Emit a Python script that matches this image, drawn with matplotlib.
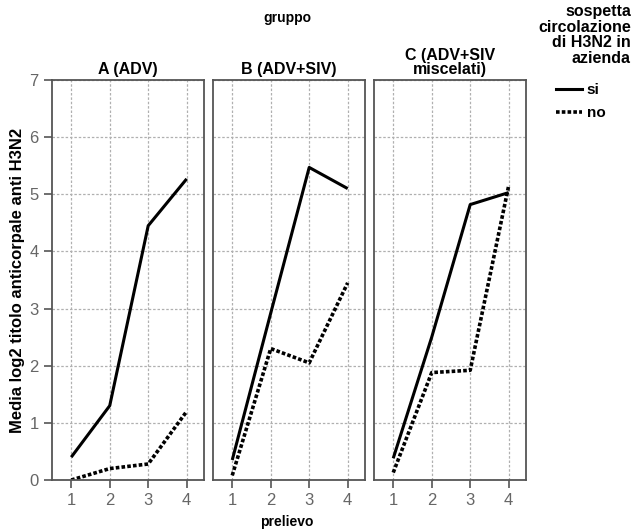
import matplotlib
matplotlib.use("Agg")
import matplotlib.pyplot as plt
from matplotlib.lines import Line2D

plt.rcParams['font.family'] = ['Liberation Sans', 'DejaVu Sans']

prelievo = [1, 2, 3, 4]
gruppi = ["A (ADV)", "B (ADV+SIV)", "C (ADV+SIV\nmiscelati)"]
si_A = [0.40, 1.30, 4.45, 5.27]
si_B = [0.35, 2.92, 5.47, 5.10]
si_C = [0.38, 2.50, 4.82, 5.03]
no_A = [0.00, 0.20, 0.28, 1.20]
no_B = [0.08, 2.30, 2.05, 3.45]
no_C = [0.13, 1.88, 1.92, 5.15]
si_vals = [si_A, si_B, si_C]
no_vals = [no_A, no_B, no_C]

fig = plt.figure(figsize=(6.36, 5.32), dpi=100)
lefts = [52 / 636, 213 / 636, 374 / 636]
frame_col = '#555555'
tick_col = '#666666'

for i, left in enumerate(lefts):
    ax = fig.add_axes([left, 1 - 480 / 532, 152 / 636, 400 / 532])
    ax.plot(prelievo, si_vals[i], color='black', lw=2.2, solid_capstyle='butt')
    ax.plot(prelievo, no_vals[i], color='black', lw=2.6, linestyle=(0, (1, 0.6)))
    ax.set_xlim(0.5, 4.45)
    ax.set_ylim(0, 7)
    ax.set_xticks(prelievo)
    ax.set_yticks(range(8))
    ax.grid(True, color='#b0b0b0', linestyle=(0, (2, 1.5)), lw=0.9)
    ax.set_axisbelow(True)
    for s in ax.spines.values():
        s.set_color(frame_col)
        s.set_linewidth(1.3)
    ax.tick_params(colors=frame_col, labelcolor=tick_col, labelsize=12, length=6, width=1.2)
    if i > 0:
        ax.tick_params(axis='y', left=False, labelleft=False)
    else:
        ax.set_ylabel("Media log2 titolo anticorpale anti H3N2", fontsize=12,
                      fontweight='bold', labelpad=3)
    ax.set_title(gruppi[i], fontsize=11.5, fontweight='bold', pad=4, linespacing=0.95)

fig.text(287 / 636, 1 - 18 / 532, "gruppo", ha='center', va='center',
         fontsize=10, fontweight='bold')
fig.text(287 / 636, 1 - 522 / 532, "prelievo", ha='center', va='center',
         fontsize=10, fontweight='bold')
fig.text(631 / 636, 1 - 4 / 532, "sospetta\ncircolazione\ndi H3N2 in\nazienda",
         ha='right', va='top', fontsize=11.5, fontweight='bold', linespacing=1.05)

handles = [Line2D([], [], color='black', lw=2.2),
           Line2D([], [], color='black', lw=2.6, linestyle=(0, (1, 0.6)))]
fig.legend(handles, ["si", "no"], loc='upper left', bbox_to_anchor=(556 / 636, 1 - 83 / 532),
           frameon=False, handlelength=1.7, handletextpad=0.3, labelspacing=0.6,
           prop={'weight': 'bold', 'size': 11}, borderaxespad=0, borderpad=0)

fig.savefig("out.png", dpi=100)
